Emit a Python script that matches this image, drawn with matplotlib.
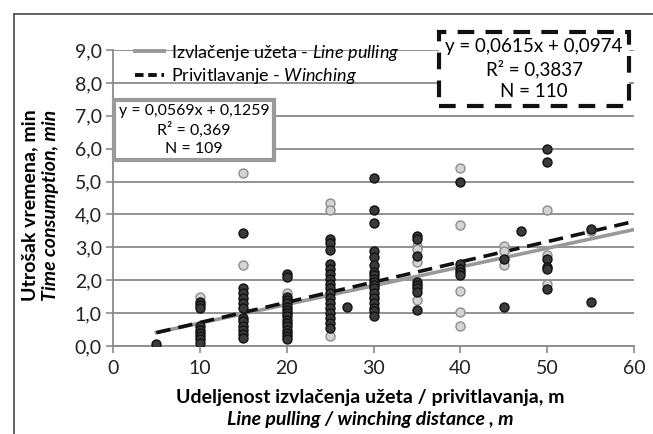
import matplotlib
matplotlib.use("Agg")
import matplotlib.pyplot as plt
from matplotlib.lines import Line2D
import numpy as np

plt.rcParams['font.family'] = ['Lato', 'DejaVu Sans']
plt.rcParams['mathtext.fontset'] = 'custom'
plt.rcParams['mathtext.rm'] = 'Lato'
plt.rcParams['mathtext.it'] = 'Lato:italic'
plt.rcParams['mathtext.bf'] = 'Lato:bold'

# Line pulling (gray) points: (distance, time)
pull_x = [10, 15, 15, 20, 25, 25, 25, 30, 35, 35, 35, 35,
          40, 40, 40, 40, 40, 45, 45, 45, 50, 50, 50, 55]
pull_y = [1.5, 5.25, 2.47, 1.62, 4.34, 4.13, 0.31, 1.5, 3.05, 2.95, 2.55, 1.4,
          5.4, 3.67, 1.68, 1.03, 0.6, 3.05, 2.9, 2.45, 4.12, 2.78, 1.9, 3.5]

# Winching (dark) points
winch_x = ([5]
           + [10] * 9
           + [15] * 12
           + [20] * 16
           + [25] * 17
           + [27]
           + [30] * 18
           + [35] * 8
           + [40] * 5
           + [45] * 2
           + [47]
           + [50] * 6
           + [55] * 2)
winch_y = ([0.07]
           + [1.35, 1.25, 1.15, 0.6, 0.5, 0.4, 0.3, 0.2, 0.1]
           + [3.44, 1.75, 1.6, 1.45, 1.3, 1.15, 0.85, 0.75, 0.6, 0.5, 0.35, 0.25]
           + [2.2, 2.1, 1.5, 1.4, 1.3, 1.2, 1.1, 1.0, 0.9, 0.8, 0.7, 0.6, 0.5, 0.4, 0.3, 0.2]
           + [3.24, 3.12, 2.92, 2.5, 2.35, 2.2, 2.05, 1.9, 1.75, 1.6, 1.45, 1.3, 1.15, 1.0, 0.85, 0.7, 0.55]
           + [1.18]
           + [5.1, 4.15, 3.75, 2.9, 2.7, 2.45, 2.25, 2.15, 2.05, 1.95, 1.85, 1.75, 1.6, 1.45, 1.3, 1.15, 1.05, 0.9]
           + [3.35, 3.25, 2.75, 1.95, 1.85, 1.75, 1.65, 1.1]
           + [5.0, 2.5, 2.35, 2.25, 2.15]
           + [2.65, 1.18]
           + [3.5]
           + [5.98, 5.6, 2.65, 2.4, 2.33, 1.73]
           + [3.55, 1.35])

# Trend line coefficients
pull_slope, pull_icpt = 0.0569, 0.1259
winch_slope, winch_icpt = 0.0615, 0.0974
trend_range = [5, 60]

x_ticks = [0, 10, 20, 30, 40, 50, 60]
y_ticks = [0, 1, 2, 3, 4, 5, 6, 7, 8, 9]
y_tick_labels = ['0,0', '1,0', '2,0', '3,0', '4,0', '5,0', '6,0', '7,0', '8,0', '9,0']

W, H = 653, 434
fig = plt.figure(figsize=(W / 100, H / 100), dpi=100)
x0, x1, y0, y1 = 113, 634, 346, 50
ax = fig.add_axes([x0 / W, 1 - y0 / H, (x1 - x0) / W, (y0 - y1) / H])

def px2data(px, py):
    return (px - x0) / (x1 - x0) * 60, (y0 - py) / (y0 - y1) * 9

gridc = '#8a8a8a'
ax.set_xlim(0, 60)
ax.set_ylim(0, 9)
ax.set_yticks(y_ticks)
ax.set_yticklabels(y_tick_labels)
ax.set_xticks(x_ticks)
ax.grid(axis='y', color=gridc, lw=1.3, zorder=0)
for s in ['top', 'right']:
    ax.spines[s].set_visible(False)
ax.spines['left'].set_color(gridc)
ax.spines['left'].set_linewidth(1.3)
ax.spines['bottom'].set_color(gridc)
ax.spines['bottom'].set_linewidth(1.3)
ax.tick_params(axis='both', colors=gridc, labelcolor='#222222', labelsize=14,
               length=5, width=1.2)
ax.tick_params(axis='y', pad=3)
ax.tick_params(axis='x', pad=5)

# trend lines
tx = np.array(trend_range, dtype=float)
ax.plot(tx, pull_slope * tx + pull_icpt, color='#999999', lw=2.6, zorder=3)
ax.plot(tx, winch_slope * tx + winch_icpt, color='#111111', lw=2.6,
        ls=(0, (4, 2.2)), zorder=4)

# points
ax.scatter(pull_x, pull_y, s=42, facecolor='#d4d4d4', edgecolor='#8c8c8c',
           lw=1.0, zorder=5)
ax.scatter(winch_x, winch_y, s=42, facecolor='#3a3a3a', edgecolor='#111111',
           lw=1.0, zorder=6)

# legend
handles = [Line2D([], [], color='#999999', lw=2.8),
           Line2D([], [], color='#111111', lw=2.8, ls=(0, (2.2, 1.2)))]
labels = [r'Izvlačenje užeta - $\mathit{Line\ pulling}$',
          r'Privitlavanje - $\mathit{Winching}$']
fig.legend(handles, labels, loc='upper left', bbox_to_anchor=(122 / W, 1 - 30 / H),
           frameon=False, fontsize=13, handlelength=1.6, handletextpad=0.4,
           labelspacing=0.2, borderpad=0.2)

# equation boxes
bx, by = px2data(194, 130)
ax.text(bx, by, 'y = 0,0569x + 0,1259\nR² = 0,369\nN = 109',
        ha='center', va='center', fontsize=11.4, linespacing=1.3, zorder=8,
        bbox=dict(boxstyle='square,pad=0.3', fc='white', ec='#9a9a9a', lw=3))
bx, by = px2data(534, 69)
ax.text(bx, by, 'y = 0,0615x + 0,0974\nR² = 0,3837\nN = 110',
        ha='center', va='center', fontsize=13.5, linespacing=1.3, zorder=8,
        bbox=dict(boxstyle='square,pad=0.35', fc='white', ec='#111111', lw=3,
                  ls=(0, (4, 2.7))))

# axis labels
fig.text(30 / W, 1 - 205 / H, 'Utrošak vremena, min', rotation=90,
         ha='center', va='center', fontsize=14, fontweight='bold')
fig.text(51 / W, 1 - 205 / H, 'Time consumption, min', rotation=90,
         ha='center', va='center', fontsize=14, fontweight='bold', style='italic')
fig.text(370 / W, 1 - 397 / H, 'Udeljenost izvlačenja užeta / privitlavanja, m',
         ha='center', va='center', fontsize=14, fontweight='bold')
fig.text(370 / W, 1 - 420 / H, 'Line pulling / winching distance , m',
         ha='center', va='center', fontsize=14, fontweight='bold', style='italic')

# outer frame
fig.add_artist(Line2D([14 / W, 14 / W], [0, 1 - 14 / H], transform=fig.transFigure,
                      color='#555555', lw=1.3))
fig.add_artist(Line2D([14 / W, 1], [1 - 14 / H, 1 - 14 / H], transform=fig.transFigure,
                      color='#555555', lw=1.3))

fig.savefig('out.png', dpi=100)
